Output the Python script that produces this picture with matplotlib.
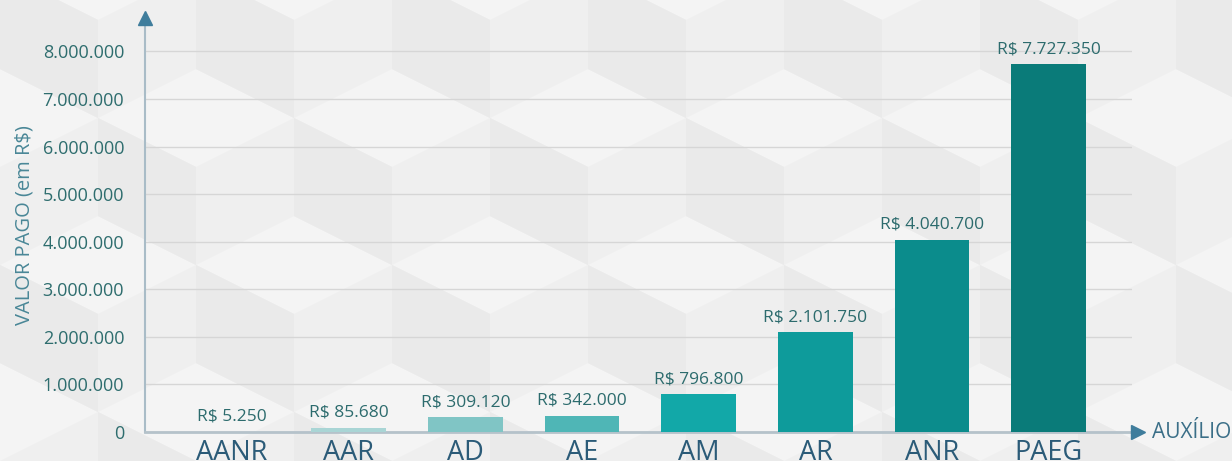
import matplotlib
matplotlib.use("Agg")
import matplotlib.pyplot as plt
from matplotlib.patches import Polygon
from matplotlib.ticker import FuncFormatter

# data
auxilios = ["AANR", "AAR", "AD", "AE", "AM", "AR", "ANR", "PAEG"]
valores = [5250, 85680, 309120, 342000, 796800, 2101750, 4040700, 7727350]
cores = ["#c9e3e3", "#a9d5d5", "#80c5c5", "#4fb6b6", "#12a8a8", "#0e9b9b", "#0b8c8c", "#0a7b79"]
y_ticks = [0, 1e6, 2e6, 3e6, 4e6, 5e6, 6e6, 7e6, 8e6]

plt.rcParams["font.family"] = ["Open Sans", "DejaVu Sans"]

def fmt_br(v: float) -> str:
    '''Formats a number with dots as thousand separators'''
    return f"{int(round(v)):,}".replace(",", ".")

fig = plt.figure(figsize=(12.32, 4.61), dpi=100, facecolor="#efefef")

# faint cube-like background pattern, on its own axes behind everything
bg = fig.add_axes([0, 0, 1, 1], zorder=-10)
bg.set_xlim(0, 1232)
bg.set_ylim(0, 461)
bg.axis("off")
step = 196
for i in range(-1, 8):
    for j in range(-1, 5):
        cx = i * step + (step / 2 if j % 2 else 0)
        cy = j * step * 0.75
        top = [(cx, cy + step / 2), (cx + step / 2, cy + step / 4), (cx, cy), (cx - step / 2, cy + step / 4)]
        left = [(cx - step / 2, cy + step / 4), (cx, cy), (cx, cy - step / 2), (cx - step / 2, cy - step / 4)]
        bg.add_patch(Polygon(top, closed=True, facecolor="#f4f4f4", edgecolor="none"))
        bg.add_patch(Polygon(left, closed=True, facecolor="#eaeaea", edgecolor="none"))

ax = fig.add_axes([0.1177, 0.0629, 0.8011, 0.898])
ax.set_facecolor("none")

x = list(range(len(auxilios)))
bars = ax.bar(x, valores, width=0.64, color=cores, zorder=3)

for b, v in zip(bars, valores):
    ax.annotate(f"R$ {fmt_br(v)}", (b.get_x() + b.get_width() / 2, v),
                xytext=(0, 5), textcoords="offset points", ha="center", va="bottom",
                fontsize=12.5, color="#2c6b6d", zorder=4)

ax.set_xlim(-0.747, 7.713)
ax.set_ylim(0, 8.7e6)
ax.set_yticks(y_ticks)
ax.yaxis.set_major_formatter(FuncFormatter(lambda v, p: fmt_br(v)))
ax.grid(axis="y", color="#d6d6d6", linewidth=1, zorder=1)
ax.set_xticks(x)
ax.set_xticklabels(auxilios, fontsize=19.5, color="#2b5b78")
ax.tick_params(axis="x", length=0, pad=5)
ax.tick_params(axis="y", length=0, pad=15, labelsize=13, labelcolor="#2e6d6e")

for s in ("top", "right"):
    ax.spines[s].set_visible(False)
ax.spines["left"].set_color("#a9bcc7")
ax.spines["bottom"].set_color("#b5c2ca")
ax.spines["left"].set_linewidth(1.5)
ax.spines["bottom"].set_linewidth(2)

# axis arrows
ax.plot([0], [1.0], marker="^", markersize=10, color="#3f7d9c", transform=ax.transAxes, clip_on=False, zorder=5)
ax.plot([1.006], [0], marker=">", markersize=10, color="#3f7d9c", transform=ax.transAxes, clip_on=False, zorder=5)
ax.plot([1.0, 1.006], [0, 0], color="#b5c2ca", linewidth=2, transform=ax.transAxes, clip_on=False)

ax.text(1.02, 0, "AUXÍLIO", transform=ax.transAxes, ha="left", va="center", fontsize=15, color="#3b6f88")
ax.set_ylabel("VALOR PAGO (em R$)", fontsize=14.5, color="#4a8797", labelpad=6)

fig.savefig("out.png", dpi=100, facecolor=fig.get_facecolor())
